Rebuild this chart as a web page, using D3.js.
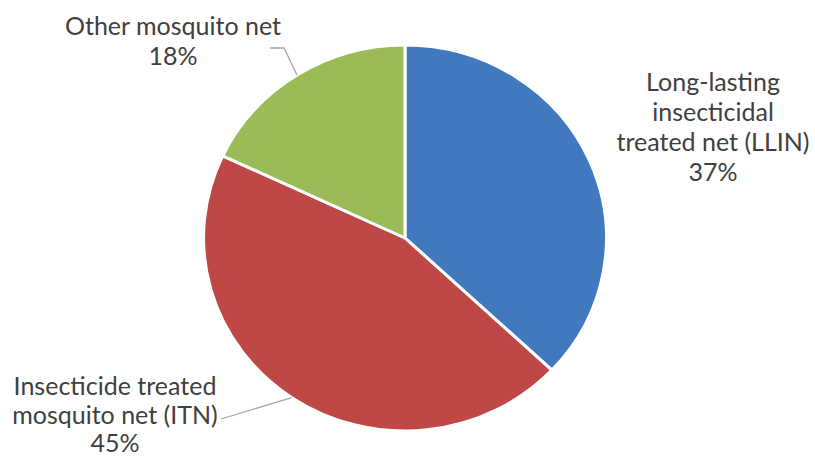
<!DOCTYPE html>
<html>
<head>
<meta charset="utf-8">
<script src="https://cdn.jsdelivr.net/npm/d3@7"></script>
<style>
  html, body { margin: 0; padding: 0; background: #fff; }
  svg { display: block; }
  text { font-family: Lato, "Open Sans", sans-serif; fill: #404040; }
</style>
</head>
<body>
<svg id="chart" width="815" height="458"></svg>
<script>
// Net types and their shares (%)
const categories = ["Long-lasting insecticidal treated net (LLIN)", "Insecticide treated mosquito net (ITN)", "Other mosquito net"];
const values = [37, 45, 18];
const colors = ["#4178BE", "#BE4845", "#9BBB59"];
// Label lines as they are wrapped on the chart
const labelLines = [
  ["Long-lasting", "insecticidal", "treated net (LLIN)", "37%"],
  ["Insecticide treated", "mosquito net (ITN)", "45%"],
  ["Other mosquito net", "18%"]
];

const W = 815, H = 458;
const cx = 405, cy = 238, r = 193, sx = 1.044;
const svg = d3.select("#chart");

const pie = d3.pie().sort(null).value(d => d)(values);
const arc = d3.arc().innerRadius(0).outerRadius(r);

const g = svg.append("g").attr("transform", `translate(${cx},${cy}) scale(${sx},1)`);
g.selectAll("path").data(pie).join("path")
  .attr("d", arc)
  .attr("fill", (d, i) => colors[i])
  .attr("stroke", "#fff")
  .attr("stroke-width", 3)
  .attr("stroke-linejoin", "round");

// point on the outer rim at a slice's middle angle
function rim(d) {
  const a = (d.startAngle + d.endAngle) / 2;
  return [cx + sx * r * Math.sin(a), cy - r * Math.cos(a)];
}

// label blocks: center x, first baseline, line step
const labelPos = [
  { x: 713, y: 91, step: 30 },
  { x: 115, y: 395, step: 28.5 },
  { x: 173, y: 35, step: 30 }
];
const fontSize = 25;

labelLines.forEach((lines, i) => {
  const p = labelPos[i];
  const t = svg.append("text")
    .attr("text-anchor", "middle")
    .attr("font-size", fontSize);
  lines.forEach((s, j) => {
    t.append("tspan").attr("x", p.x).attr("y", p.y + j * p.step).text(s);
  });
});

// leader lines
const lead = svg.append("g").attr("fill", "none").attr("stroke", "#a6a6a6").attr("stroke-width", 1.3);
{
  const e = rim(pie[2]);
  lead.append("path").attr("d", d3.line()([[270, 48], [284, 48], e]));
}
{
  const e = rim(pie[1]);
  lead.append("path").attr("d", d3.line()([[221, 419], e]));
}
</script>
</body>
</html>
